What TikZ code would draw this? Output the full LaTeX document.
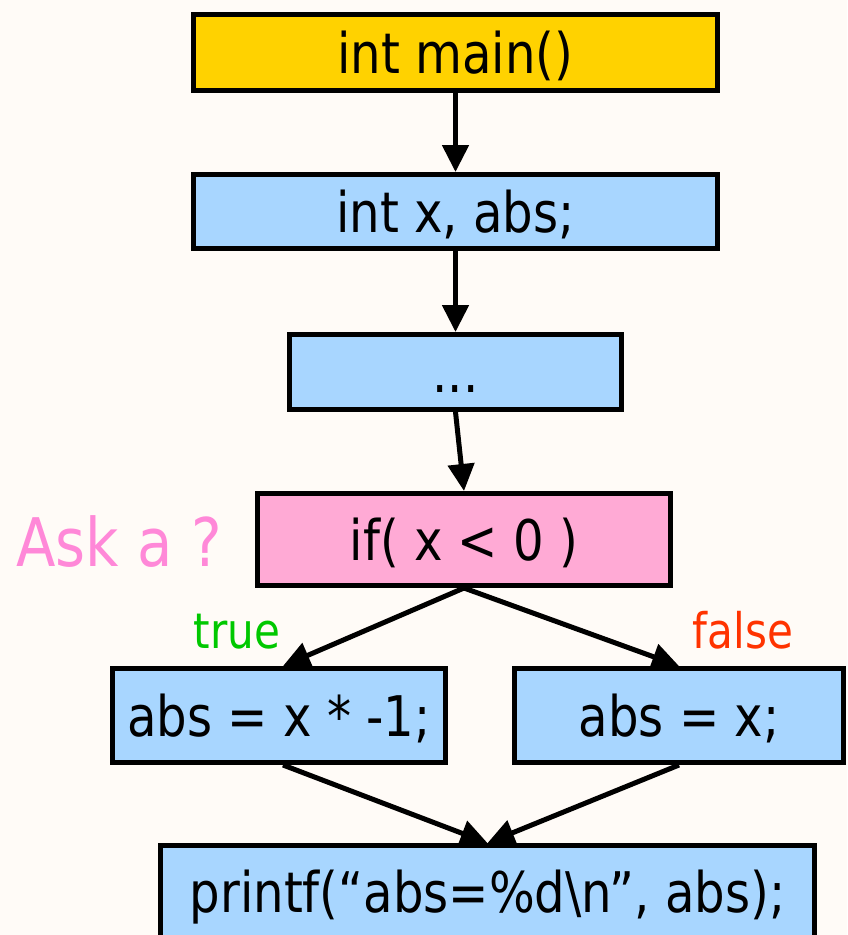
\documentclass[tikz,border=0pt]{standalone}
\usepackage{fontspec}
\setmainfont[FakeStretch=0.86]{DejaVu Sans}
\usetikzlibrary{arrows.meta}

\definecolor{bgcol}{HTML}{FFFBF7}
\definecolor{startcol}{HTML}{FFD200}
\definecolor{stmtcol}{HTML}{A8D6FF}
\definecolor{condcol}{HTML}{FFAAD5}
\definecolor{askcol}{HTML}{FF88D8}
\definecolor{truecol}{HTML}{00C800}
\definecolor{falsecol}{HTML}{FF3300}

\tikzset{
  flowbox/.style={draw=black, line width=5pt, rectangle, inner sep=0pt,
    font=\fontsize{56}{64}\selectfont, text=black,
    text height=41pt, text depth=0pt},
  stmtbox/.style={flowbox, fill=stmtcol},
  flowarrow/.style={line width=5pt, -{Triangle[length=27pt,width=26pt]}},
  branchlabel/.style={font=\fontsize{49}{56}\selectfont, inner sep=0pt}
}

\begin{document}
\begin{tikzpicture}[x=1pt, y=-1pt]
  % canvas
  \fill[bgcol] (0,0) rectangle (847,935);
  \useasboundingbox (0,0) rectangle (847,935);

  % boxes (sizes are outer extents minus the border width)
  \node[flowbox, fill=startcol, minimum width=524pt, minimum height=76pt]
    (main) at (455.5,52.5) {int main()};
  \node[stmtbox, minimum width=524pt, minimum height=74pt]
    (decl) at (455.5,211.5) {int x, abs;};
  \node[stmtbox, minimum width=332pt, minimum height=75pt]
    (dots) at (455.5,372) {...};
  \node[flowbox, fill=condcol, minimum width=413pt, minimum height=92pt]
    (cond) at (464,539.5) {if( x < 0 )};
  \node[stmtbox, minimum width=333pt, minimum height=94pt]
    (neg) at (279,715.5) {abs = x * -1;};
  \node[stmtbox, minimum width=329pt, minimum height=94pt]
    (pos) at (679,715.5) {abs = x;};
  \node[stmtbox, minimum width=654pt, minimum height=93pt]
    (out) at (487.5,892) {printf(“abs=\%d\textbackslash n”, abs);};

  % side texts
  \node[font=\fontsize{67}{76}\selectfont, text=askcol, inner sep=0pt]
    (ask) at (119,542) {Ask a ?};
  \node[branchlabel, text=truecol] (ltrue) at (237,632) {true};
  \node[branchlabel, text=falsecol] (lfalse) at (743,630) {false};

  % connectors
  \draw[flowarrow] (main) -- (decl);
  \draw[flowarrow] (decl) -- (dots);
  \draw[flowarrow] (dots.south) -- (cond.north);
  \draw[flowarrow] (cond.south) -- ([xshift=4pt]neg.north);
  \draw[flowarrow] (cond.south) -- (pos.north);
  \draw[flowarrow] ([xshift=4pt]neg.south) -- (out.north);
  \draw[flowarrow] (pos.south) -- (out.north);
\end{tikzpicture}
\end{document}
